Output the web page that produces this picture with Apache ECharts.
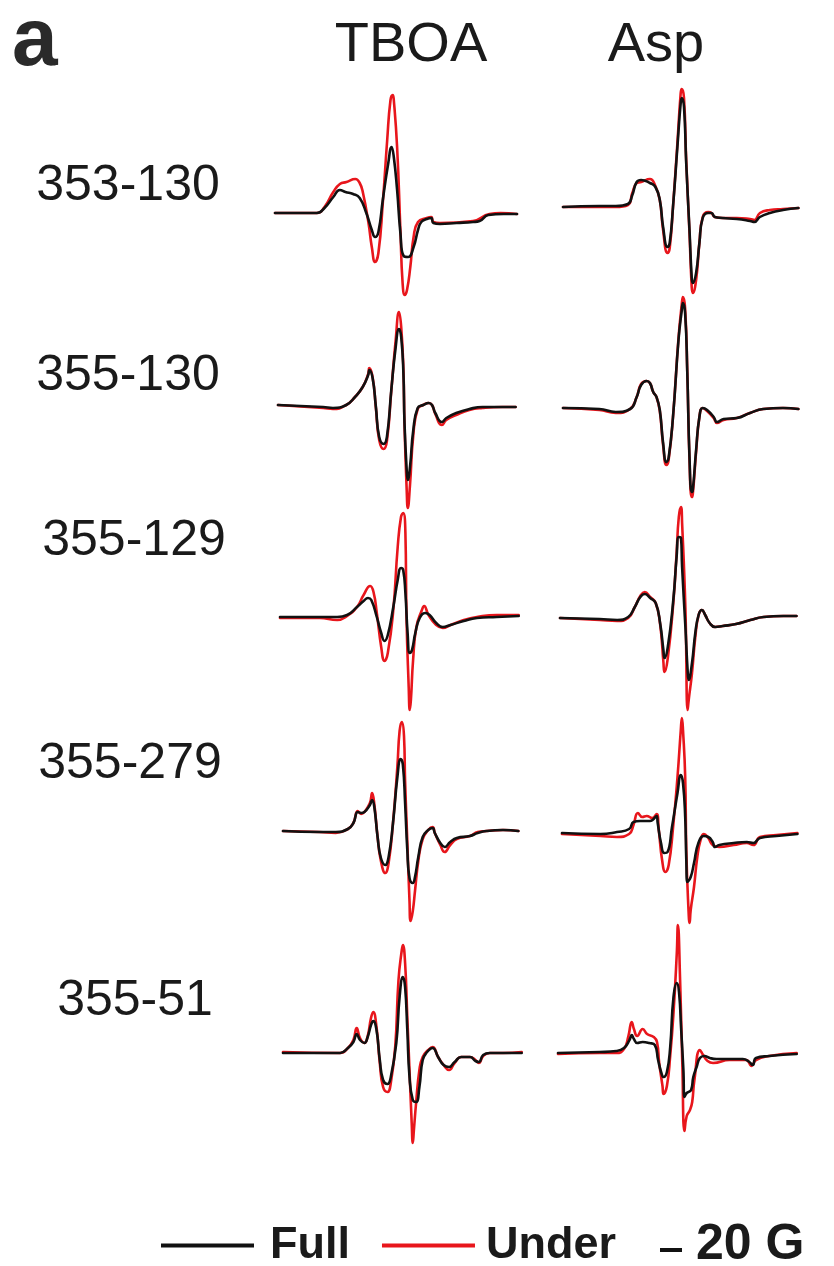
<!DOCTYPE html>
<html>
<head>
<meta charset="utf-8">
<script src="https://cdn.jsdelivr.net/npm/echarts@6/dist/echarts.min.js"></script>
<style>
  html, body { margin: 0; padding: 0; background: #fff; }
  #chart { width: 834px; height: 1266px; }
</style>
</head>
<body>
<div id="chart"></div>
<script>
// Column conditions, row constructs and legend entries
const conditions = ['TBOA', 'Asp'];
const constructs = ['353-130', '355-130', '355-129', '355-279', '355-51'];
const traceNames = ['Full', 'Under'];
const panelLetter = 'a';
const scaleBarGauss = 20;
const scaleBarLabel = '20 G';

// First-derivative EPR spectra: [field offset (G), signal (a.u.)]
const tboa_353_130_full = [[0,0],[38,0],[45,5],[53,16],[59,23],[64,21],[71,19],[77,15],[83,0],[88,-17],[91,-24],[94,-19],[98,13],[103,50],[106,66],[108,56],[111,23],[114,-20],[117,-43],[121,-44],[126,-34],[130,-17],[133,-9],[138,-6],[142,-5],[144,-10],[150,-11],[165,-10],[180,-9],[186,-8],[194,-2],[208,-1],[220,-1]];
const tboa_353_130_under = [[0,0],[38,0],[45,6],[53,21],[59,29],[65,31],[73,34],[77,30],[80,20],[85,-10],[88,-34],[91,-49],[94,-40],[98,10],[102,73],[105,113],[107,118],[108,113],[111,66],[114,-17],[116,-70],[118,-82],[120,-77],[123,-54],[126,-24],[130,-9],[138,-5],[142,-4],[144,-9],[150,-10],[180,-8],[195,-1],[205,0],[220,-1]];

const asp_353_130_full = [[0,0],[33,1],[48,1],[59,3],[63,12],[67,25],[71,27],[79,24],[84,20],[88,7],[91,-20],[95,-40],[97,-36],[100,0],[104,60],[107,104],[108,109],[110,100],[112,44],[115,-23],[117,-70],[118,-76],[121,-66],[124,-36],[127,-11],[132,-6],[135,-6],[138,-10],[145,-11],[158,-12],[170,-14],[174,-15],[179,-10],[188,-6],[200,-3],[214,-1]];
const asp_353_130_under = [[0,0],[33,0],[48,0],[59,2],[63,14],[67,24],[71,25],[79,28],[84,21],[88,7],[91,-23],[95,-46],[97,-41],[100,0],[104,64],[107,114],[108,118],[110,109],[112,47],[115,-26],[117,-80],[118,-86],[121,-73],[124,-36],[127,-10],[132,-5],[135,-6],[138,-10],[145,-11],[158,-11],[170,-12],[174,-13],[179,-6],[188,-3],[200,-2],[214,-1]];

const tboa_355_130_full = [[0,0],[41,-2],[50,-3],[62,0],[70,8],[77,18],[82,30],[83,35],[86,27],[89,-2],[92,-32],[96,-39],[99,-32],[103,15],[107,58],[110,76],[112,68],[114,32],[115,-18],[117,-65],[118,-75],[120,-62],[123,-25],[127,-3],[132,0],[137,2],[140,0],[143,-8],[149,-17],[153,-13],[162,-8],[174,-4],[186,-2],[204,-2],[216,-2]];
const tboa_355_130_under = [[0,0],[41,-3],[50,-4],[62,0],[70,8],[77,18],[82,31],[83,37],[86,28],[89,-3],[92,-35],[96,-44],[99,-36],[103,14],[107,65],[110,93],[112,78],[114,36],[115,-20],[117,-85],[118,-103],[120,-80],[123,-30],[127,-4],[132,0],[137,2],[140,0],[143,-9],[149,-20],[153,-15],[162,-10],[174,-5],[186,-3],[204,-2],[216,-2]];

const asp_355_130_full = [[0,0],[33,-1],[48,-4],[61,-1],[67,11],[71,23],[76,27],[79,25],[82,16],[85,11],[88,-2],[91,-35],[94,-54],[96,-50],[100,-9],[105,68],[108,98],[109,105],[111,95],[113,35],[115,-49],[117,-84],[118,-82],[121,-42],[124,-9],[127,0],[131,-2],[137,-9],[140,-14],[146,-11],[158,-10],[170,-5],[182,-1],[200,0],[214,-1]];
const asp_355_130_under = [[0,0],[33,-2],[48,-5],[61,-1],[67,11],[71,24],[76,27],[79,25],[82,16],[85,11],[88,-3],[91,-37],[94,-57],[96,-52],[100,-9],[105,70],[108,104],[109,111],[111,100],[113,36],[115,-52],[117,-89],[118,-86],[121,-44],[124,-9],[127,0],[131,-3],[137,-10],[140,-15],[146,-12],[158,-10],[170,-5],[182,-1],[200,0],[214,-1]];

const tboa_355_129_full = [[0,0],[36,0],[52,0],[61,2],[70,10],[76,16],[80,19],[83,17],[88,0],[92,-16],[95,-24],[98,-18],[103,10],[107,37],[110,49],[112,47],[114,24],[116,-16],[118,-36],[120,-33],[123,-16],[127,-1],[132,4],[136,2],[142,-6],[148,-10],[155,-8],[167,-4],[179,-1],[197,0],[217,1]];
const tboa_355_129_under = [[0,-1],[36,-1],[52,-3],[61,1],[70,10],[76,22],[82,31],[85,25],[88,4],[92,-30],[95,-44],[98,-36],[103,7],[107,70],[110,100],[112,104],[114,84],[115,0],[117,-70],[118,-93],[119,-83],[121,-43],[124,-10],[129,7],[131,11],[135,2],[142,-8],[148,-11],[155,-8],[167,-3],[179,0],[197,2],[217,2]];

const asp_355_129_full = [[0,0],[36,-1],[52,-2],[62,1],[68,11],[73,21],[77,24],[82,20],[87,15],[91,-5],[94,-32],[95,-40],[98,-29],[103,18],[106,61],[108,81],[110,80],[111,51],[114,-9],[116,-52],[117,-62],[120,-45],[123,-15],[126,3],[129,8],[132,3],[136,-5],[141,-9],[148,-8],[160,-6],[173,-2],[185,1],[203,2],[215,2]];
const asp_355_129_under = [[0,0],[36,-2],[52,-3],[62,0],[68,11],[73,22],[77,26],[82,21],[87,15],[91,-6],[94,-44],[95,-54],[98,-40],[103,15],[106,65],[108,101],[110,111],[111,95],[114,10],[116,-92],[117,-82],[120,-55],[123,-19],[126,3],[129,8],[132,3],[136,-5],[141,-9],[148,-8],[160,-6],[173,-2],[185,1],[203,2],[215,2]];

const tboa_355_279_full = [[0,0],[33,-1],[48,-1],[59,2],[64,8],[68,19],[71,18],[74,19],[79,26],[81,31],[83,24],[86,-6],[89,-27],[93,-34],[96,-26],[100,8],[104,54],[107,72],[109,66],[111,28],[113,-19],[115,-47],[118,-52],[120,-46],[123,-26],[127,-6],[132,1],[136,3],[138,-2],[143,-12],[147,-16],[152,-11],[158,-7],[170,-5],[177,-2],[185,0],[200,1],[214,0]];
const tboa_355_279_under = [[0,0],[33,-1],[48,-2],[59,2],[64,8],[68,20],[71,17],[74,19],[79,28],[81,38],[83,27],[86,-6],[89,-30],[93,-42],[96,-32],[100,8],[104,65],[106,100],[108,109],[110,95],[111,50],[113,-10],[115,-70],[116,-90],[118,-80],[120,-60],[123,-30],[127,-8],[132,1],[136,4],[138,-2],[143,-14],[147,-21],[152,-14],[158,-8],[170,-5],[177,-1],[185,0],[200,1],[214,0]];

const asp_355_279_full = [[0,0],[35,-1],[50,1],[61,4],[65,11],[71,12],[80,12],[86,17],[87,10],[90,-10],[93,-20],[96,-19],[100,6],[105,40],[108,58],[110,50],[112,16],[113,-27],[114,-49],[117,-44],[120,-30],[124,-10],[129,-3],[133,-4],[137,-9],[139,-14],[143,-12],[156,-10],[168,-9],[174,-10],[180,-5],[195,-3],[214,-1]];
const asp_355_279_under = [[0,-1],[35,-3],[50,-4],[61,-1],[65,8],[69,20],[73,16],[77,17],[82,15],[86,19],[88,3],[91,-27],[94,-39],[97,-32],[101,6],[105,56],[108,103],[109,115],[110,103],[112,56],[113,-17],[115,-77],[116,-90],[117,-77],[120,-54],[123,-24],[126,-7],[129,-1],[133,-5],[137,-12],[143,-14],[156,-12],[168,-10],[174,-12],[180,-4],[195,-2],[214,0]];

const tboa_355_51_full = [[0,0],[33,0],[52,0],[59,5],[64,11],[67,19],[70,13],[74,10],[77,16],[80,28],[82,32],[85,23],[88,-7],[91,-27],[95,-31],[98,-24],[103,10],[106,56],[109,76],[111,66],[113,23],[115,-24],[118,-47],[121,-49],[124,-34],[127,-7],[131,1],[136,5],[141,-4],[146,-12],[151,-14],[156,-9],[162,-4],[170,-4],[175,-8],[178,-9],[182,-2],[188,0],[200,0],[217,0]];
const tboa_355_51_under = [[0,1],[52,0],[59,5],[64,13],[67,25],[70,15],[74,10],[77,17],[80,35],[82,41],[85,26],[88,-10],[91,-34],[95,-39],[98,-30],[102,6],[105,73],[108,103],[109,108],[111,90],[113,36],[115,-17],[117,-70],[118,-90],[119,-77],[121,-50],[124,-17],[127,-4],[132,3],[136,6],[141,-4],[146,-12],[151,-17],[156,-10],[162,-4],[170,-4],[175,-7],[178,-10],[182,-3],[188,0],[200,0],[217,1]];

const asp_355_51_full = [[0,0],[38,1],[53,2],[60,5],[65,13],[67,18],[69,14],[72,10],[77,11],[83,10],[88,8],[91,-7],[94,-20],[96,-24],[99,-19],[102,6],[105,56],[108,70],[110,61],[112,23],[114,-17],[115,-44],[117,-40],[121,-37],[123,-24],[126,-14],[129,-5],[133,-3],[138,-5],[144,-6],[156,-6],[168,-6],[174,-9],[177,-12],[180,-5],[192,-3],[217,-1]];
const asp_355_51_under = [[0,-1],[38,0],[53,0],[60,4],[64,17],[67,31],[69,24],[72,17],[77,24],[81,19],[87,16],[90,11],[92,-10],[95,-33],[96,-41],[99,-33],[102,-3],[105,40],[108,100],[109,128],[111,73],[113,-10],[115,-78],[117,-63],[120,-57],[122,-49],[124,-27],[129,3],[132,-2],[136,-8],[141,-10],[156,-7],[171,-7],[176,-13],[180,-7],[192,-3],[217,0]];

const scaleBar = [[0, 0], [scaleBarGauss, 0]];

// Traces per condition, row order follows `constructs`
const spectra = {
  TBOA: [
    [tboa_353_130_full, tboa_353_130_under],
    [tboa_355_130_full, tboa_355_130_under],
    [tboa_355_129_full, tboa_355_129_under],
    [tboa_355_279_full, tboa_355_279_under],
    [tboa_355_51_full, tboa_355_51_under]
  ],
  Asp: [
    [asp_353_130_full, asp_353_130_under],
    [asp_355_130_full, asp_355_130_under],
    [asp_355_129_full, asp_355_129_under],
    [asp_355_279_full, asp_355_279_under],
    [asp_355_51_full, asp_355_51_under]
  ]
};

// ---- layout ----
const FONT = '"Liberation Sans", Arial, Helvetica, sans-serif';
const BLACK = '#111111';
const RED = '#e8161c';
const PX_PER_G = 1.1;
const FIELD_SPAN = 220;
const Y_MIN = -110, Y_MAX = 130;          // 1 a.u. per pixel
const panelLeft = { TBOA: [275, 278, 280, 283, 283], Asp: [563, 563, 560, 562, 558] };
const baseline = { TBOA: [213, 405, 617, 831, 1053], Asp: [207, 408, 618, 833, 1053] };
const rowLabelPos = [[128, 186], [128, 376], [134, 541], [130, 764], [135, 1001]];

const grid = [], xAxis = [], yAxis = [], series = [];

conditions.forEach(cond => {
  constructs.forEach((c, r) => {
    const idx = grid.length;
    grid.push({
      left: panelLeft[cond][r],
      top: baseline[cond][r] - Y_MAX,
      width: FIELD_SPAN * PX_PER_G,
      height: Y_MAX - Y_MIN
    });
    xAxis.push({ type: 'value', gridIndex: idx, min: 0, max: FIELD_SPAN, show: false });
    yAxis.push({ type: 'value', gridIndex: idx, min: Y_MIN, max: Y_MAX, show: false });
    const [full, under] = spectra[cond][r];
    [[under, 'Under', RED, 2], [full, 'Full', BLACK, 3]].forEach(([d, name, color, z]) => {
      series.push({
        type: 'line', name, data: d,
        xAxisIndex: idx, yAxisIndex: idx,
        showSymbol: false, symbol: 'none',
        smooth: 0.5,
        z,
        itemStyle: { color },
        lineStyle: { color, width: 2.6, join: 'round', cap: 'round' },
        silent: true
      });
    });
  });
});

// 20 G scale bar on the same field scale
const sbIdx = grid.length;
grid.push({ left: 660, top: 1240, width: scaleBarGauss * PX_PER_G, height: 20 });
xAxis.push({ type: 'value', gridIndex: sbIdx, min: 0, max: scaleBarGauss, show: false });
yAxis.push({ type: 'value', gridIndex: sbIdx, min: -1, max: 1, show: false });
series.push({
  type: 'line', data: scaleBar, xAxisIndex: sbIdx, yAxisIndex: sbIdx,
  showSymbol: false, symbol: 'none', silent: true,
  lineStyle: { color: BLACK, width: 4 }
});

const texts = [];
texts.push({ type: 'text', style: { text: panelLetter, x: 12, y: 83, font: 'bold 82px ' + FONT, fill: '#2a2a2a', textVerticalAlign: 'bottom' } });
texts.push({ type: 'text', style: { text: conditions[0], x: 411, y: 46, font: '56px ' + FONT, fill: '#1a1a1a', textAlign: 'center', textVerticalAlign: 'middle' } });
texts.push({ type: 'text', style: { text: conditions[1], x: 656, y: 46, font: '56px ' + FONT, fill: '#1a1a1a', textAlign: 'center', textVerticalAlign: 'middle' } });
constructs.forEach((c, r) => {
  texts.push({ type: 'text', style: { text: c, x: rowLabelPos[r][0], y: rowLabelPos[r][1], font: '50px ' + FONT, fill: '#1a1a1a', textAlign: 'center', textVerticalAlign: 'middle' } });
});
texts.push({ type: 'text', style: { text: scaleBarLabel, x: 696, y: 1245, font: 'bold 50px ' + FONT, fill: '#1a1a1a', textVerticalAlign: 'middle' } });

const chart = echarts.init(document.getElementById('chart'), null, { renderer: 'canvas' });
chart.setOption({
  backgroundColor: '#ffffff',
  animation: false,
  grid, xAxis, yAxis, series,
  legend: {
    data: [
      { name: traceNames[0], textStyle: { padding: [0, 0, 0, 11] } },
      { name: traceNames[1], textStyle: { padding: [0, 0, 0, 6] } }
    ],
    left: 156, top: 1218,
    icon: 'rect', itemWidth: 93, itemHeight: 4, itemGap: 32,
    selectedMode: false,
    textStyle: { fontSize: 45, fontWeight: 'bold', fontFamily: FONT, color: '#1a1a1a' }
  },
  graphic: texts
});
</script>
</body>
</html>
